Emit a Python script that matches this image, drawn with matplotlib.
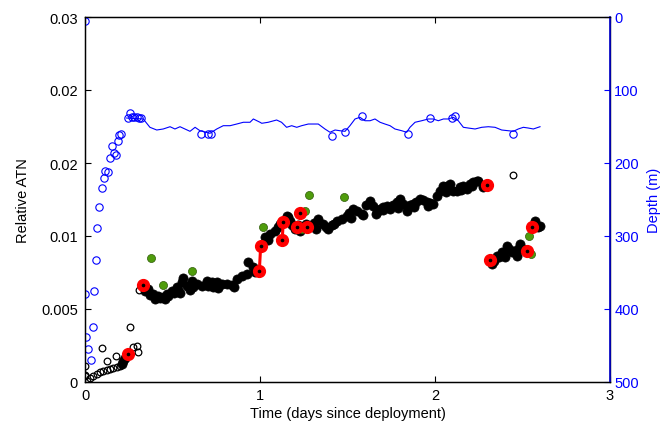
import numpy as np
import matplotlib
matplotlib.use("Agg")
import matplotlib.pyplot as plt

plt.rcParams['font.family'] = ['Liberation Sans', 'DejaVu Sans']

# ---------------- data ----------------
# depth line (days, m)
line_t = [0.238, 0.333, 0.371, 0.410, 0.447, 0.486, 0.514, 0.543, 0.571, 0.600, 0.629, 0.657, 0.714,
          0.753, 0.790, 0.829, 0.867, 0.905, 0.943, 0.962, 1.000, 1.010, 1.047, 1.095, 1.123, 1.152,
          1.181, 1.210, 1.238, 1.276, 1.333, 1.371, 1.400, 1.429, 1.457, 1.486, 1.514, 1.543, 1.571,
          1.600, 1.629, 1.657, 1.686, 1.714, 1.743, 1.771, 1.810, 1.838, 1.857, 1.886, 1.924, 1.962,
          1.990, 2.019, 2.048, 2.076, 2.105, 2.133, 2.162, 2.190, 2.229, 2.267, 2.305, 2.343, 2.381,
          2.419, 2.448, 2.476, 2.505, 2.533, 2.562, 2.600]
line_d = [138.4, 139.7, 151.1, 154.8, 153.4, 150.3, 153.4, 150.3, 153.4, 156.6, 151.1, 155.8, 159.3,
          153.4, 148.9, 148.9, 146.6, 144.2, 144.2, 139.7, 144.2, 145.6, 144.2, 141.1, 144.2, 151.1,
          148.9, 151.1, 148.9, 146.6, 146.6, 153.4, 157.9, 154.8, 155.8, 156.6, 148.9, 139.7, 137.4,
          142.1, 142.1, 139.7, 144.2, 146.6, 148.9, 153.4, 155.8, 157.9, 151.1, 144.2, 142.1, 139.7,
          139.7, 142.1, 139.7, 139.7, 137.4, 142.1, 151.1, 152.1, 153.4, 151.1, 150.3, 151.1, 154.8,
          155.8, 156.6, 153.4, 151.1, 152.1, 153.4, 150.3]

# depth samples (open blue circles)
dep_t = [0.0, 0.0, 0.007, 0.017, 0.034, 0.044, 0.053, 0.061, 0.070, 0.080, 0.097, 0.107, 0.116, 0.133,
         0.143, 0.153, 0.164, 0.177, 0.187, 0.196, 0.206, 0.244, 0.257, 0.267, 0.282, 0.295, 0.309,
         0.320, 0.663, 0.705, 0.718, 1.411, 1.486, 1.583, 1.846, 1.971, 2.097, 2.114, 2.446]
dep_d = [5.5, 379, 438, 455, 470, 425, 375, 333, 289, 260, 234, 221, 211, 212,
         193, 177, 186, 189, 170, 162, 160, 138, 132, 137, 137, 137, 138,
         138, 160, 160, 160, 163, 158, 136, 160, 138, 138, 136, 160]

# open black circles (ATN)
open_t = [0.0, 0.0, 0.0, 0.010, 0.029, 0.047, 0.067, 0.086, 0.105, 0.124, 0.143, 0.162, 0.181, 0.200,
          0.219, 0.095, 0.124, 0.177, 0.257, 0.276, 0.295, 0.305, 0.309, 2.447]
open_v = [0.00058, 0.00130, 0.00050, 0.00011, 0.00033, 0.00049, 0.00066, 0.00085, 0.00093, 0.00101,
          0.00107, 0.00113, 0.00121, 0.00134, 0.00162, 0.00279, 0.00170, 0.00216, 0.00450, 0.00285,
          0.00298, 0.00244, 0.00754, 0.01701]

# filled black (ATN)
fill_t = [0.209, 0.219, 0.229,
          0.343, 0.362, 0.371, 0.390, 0.400, 0.419, 0.429, 0.447, 0.467, 0.474, 0.495, 0.509, 0.524,
          0.531, 0.553, 0.562, 0.581, 0.610, 0.617, 0.638, 0.667, 0.695, 0.703, 0.724, 0.731, 0.753,
          0.781, 0.810, 0.838, 0.867, 0.895, 0.924, 0.933, 0.962, 0.971,
          1.029, 1.046, 1.057, 1.086, 1.103, 1.114, 1.153, 1.160, 1.171, 1.183, 1.200, 1.217, 1.247,
          1.263, 1.286, 1.309, 1.333, 1.362, 1.377, 1.390, 1.411, 1.438, 1.467, 1.495, 1.509, 1.533,
          1.554, 1.581, 1.606, 1.629, 1.646, 1.667, 1.686, 1.705, 1.726, 1.743, 1.760, 1.781, 1.800,
          1.817, 1.838, 1.857, 1.876, 1.891, 1.914, 1.931, 1.953, 1.971, 1.990, 2.010, 2.029, 2.048,
          2.067, 2.086, 2.105, 2.124, 2.143, 2.162, 2.181, 2.200, 2.219, 2.238, 2.247, 2.276,
          0.457, 0.545, 0.600, 0.760, 0.850, 1.230, 1.320, 1.420, 1.520, 1.590, 1.660, 1.700, 1.790,
          1.880, 1.960, 2.060, 2.150, 2.210,
          2.324, 2.337, 2.353, 2.366, 2.381, 2.400, 2.410, 2.423, 2.438, 2.451, 2.467, 2.474, 2.486,
          2.505, 2.571, 2.590, 2.600]
fill_v = [0.00148, 0.00175, 0.00195,
          0.00748, 0.00764, 0.00715, 0.00723, 0.00682, 0.00709, 0.00690, 0.00696, 0.00723, 0.00707,
          0.00750, 0.00731, 0.00778, 0.00756, 0.00819, 0.00852, 0.00791, 0.00833, 0.00781, 0.00805,
          0.00791, 0.00833, 0.00789, 0.00819, 0.00781, 0.00819, 0.00805, 0.00805, 0.00797, 0.00847,
          0.00874, 0.00888, 0.00984, 0.00943, 0.00902,
          0.01189, 0.01167, 0.01216, 0.01244, 0.01274, 0.01299, 0.01367, 0.01356, 0.01326, 0.01290,
          0.01258, 0.01290, 0.01271, 0.01299, 0.01285, 0.01307, 0.01340, 0.01299, 0.01274, 0.01258,
          0.01290, 0.01326, 0.01340, 0.01367, 0.01389, 0.01422, 0.01405, 0.01381, 0.01455, 0.01490,
          0.01447, 0.01395, 0.01422, 0.01436, 0.01447, 0.01422, 0.01455, 0.01477, 0.01504, 0.01463,
          0.01408, 0.01455, 0.01463, 0.01479, 0.01504, 0.01496, 0.01477, 0.01471, 0.01463, 0.01531,
          0.01570, 0.01613, 0.01613, 0.01627, 0.01572, 0.01572, 0.01600, 0.01613, 0.01586, 0.01627,
          0.01641, 0.01654, 0.01654, 0.01600,
          0.00680, 0.00735, 0.00760, 0.00770, 0.00780, 0.01240, 0.01260, 0.01300, 0.01350, 0.01370,
          0.01380, 0.01410, 0.01430, 0.01440, 0.01450, 0.01560, 0.01580, 0.01610,
          0.00970, 0.00995, 0.01038, 0.01027, 0.01066, 0.01025, 0.01120, 0.01093, 0.01066, 0.01077,
          0.01038, 0.01093, 0.01134, 0.01093, 0.01326, 0.01271, 0.01285]

# red (flagged) points; nan separates connected groups
red_t = [0.244, np.nan, 0.330, np.nan, 0.996, 1.004, np.nan, 1.127, 1.133, np.nan, 1.210, np.nan,
         1.229, np.nan, 1.267, np.nan, 2.299, np.nan, 2.314, np.nan, 2.527, np.nan, 2.556]
red_v = [0.00233, np.nan, 0.00797, np.nan, 0.00910, 0.01120, np.nan, 0.01170, 0.01318, np.nan,
         0.01271, np.nan, 0.01389, np.nan, 0.01271, np.nan, 0.01622, np.nan, 0.01003, np.nan,
         0.01079, np.nan, 0.01271]

# green points
green_t = [0.375, 0.447, 0.610, 1.019, 1.282, 1.482, 1.257, 1.238, 2.537, 2.547]
green_v = [0.01017, 0.00797, 0.00915, 0.01276, 0.01537, 0.01518, 0.01408, 0.01258, 0.01198, 0.01052]

ytick_vals = [0, 0.006, 0.012, 0.018, 0.024, 0.03]
ytick_labels = ['0', '0.005', '0.01', '0.02', '0.02', '0.03']
xticks = [0, 1, 2, 3]
dticks = [0, 100, 200, 300, 400, 500]

# ---------------- plot ----------------
fig = plt.figure(figsize=(6.66, 4.27), dpi=100)
ax = fig.add_axes([85/666, 1 - 383/427, 525/666, 365/427])

ax.plot(open_t, open_v, 'o', ms=4.8, mfc='none', mec='black', mew=0.9, zorder=2)
ax.plot(fill_t, fill_v, 'o', ms=6.6, mfc='black', mec='black', mew=0.5, zorder=3)
ax.plot(green_t, green_v, 'o', ms=5.8, mfc='#4f9c0c', mec='#2e5a08', mew=0.5, zorder=4)
ax.plot(red_t, red_v, '-o', color='#ff0000', lw=2.2, ms=8.5, mfc='#ff0000', mec='#ff0000', zorder=5)
ax.plot(red_t, red_v, 'o', ms=1.6, color='black', zorder=6)

ax.set_xlim(0, 3)
ax.set_ylim(0, 0.03)
ax.set_xticks(xticks)
ax.set_xticklabels([str(x) for x in xticks])
ax.set_yticks(ytick_vals)
ax.set_yticklabels(ytick_labels)
ax.tick_params(axis='both', direction='in', length=4, width=0.8, labelsize=10.5, colors='black')
ax.tick_params(axis='x', top=True, pad=4)
ax.tick_params(axis='y', pad=5)
ax.set_xlabel('Time (days since deployment)', fontsize=10.5, labelpad=3)
ax.set_ylabel('Relative ATN', fontsize=10.5, labelpad=8)
for s in ax.spines.values():
    s.set_linewidth(1.0)

ax2 = ax.twinx()
ax2.plot(line_t, line_d, '-', color='#0000ff', lw=0.8)
ax2.plot(dep_t, dep_d, 'o', ms=5.3, mfc='none', mec='#0000ff', mew=0.8)
ax2.set_ylim(500, 0)
ax2.set_yticks(dticks)
ax2.set_yticklabels([str(d) for d in dticks])
ax2.tick_params(axis='y', direction='in', length=4, width=0.8, labelsize=10.5, colors='#0000ff', pad=3)
ax2.spines['right'].set_color('#0000cc')
ax2.spines['right'].set_linewidth(1.2)
ax2.set_ylabel('Depth (m)', fontsize=10.5, color='#0000ff', labelpad=6)
ax2.patch.set_visible(False)

fig.savefig('out.png', dpi=100)
